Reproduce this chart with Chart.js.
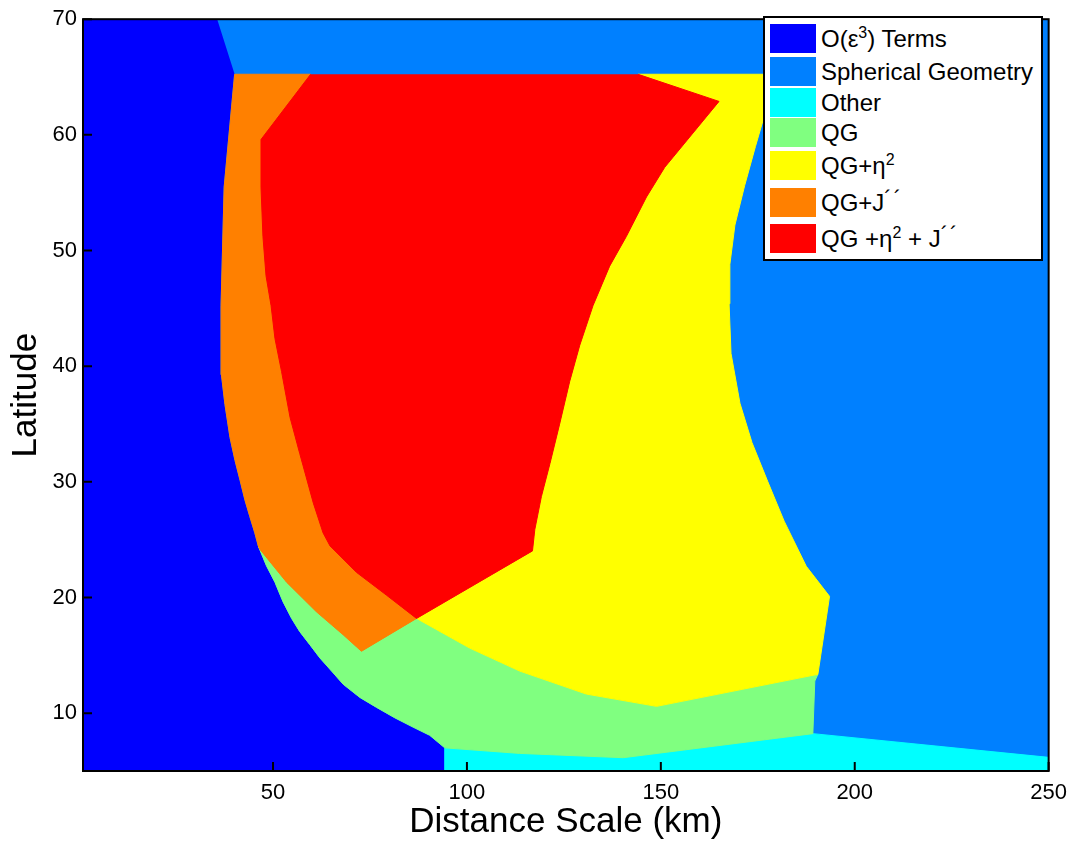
<!DOCTYPE html>
<html><head><meta charset="utf-8">
<script src="https://cdn.jsdelivr.net/npm/chart.js@4.4.0/dist/chart.umd.min.js"></script>
<style>
html,body{margin:0;padding:0;background:#fff;}
#wrap{position:relative;width:1076px;height:844px;}
#legend{position:absolute;left:763px;top:16px;width:280px;height:245px;border:2px solid #000;background:#fff;box-sizing:border-box;font-family:'Liberation Sans',Arial,Helvetica,sans-serif;font-size:24px;color:#000;}
.row{position:absolute;left:5px;height:29px;display:flex;align-items:center;white-space:nowrap;}
.sw{width:46px;height:29px;margin-right:5px;flex:none;}
.row sup{font-size:16px;line-height:0;vertical-align:baseline;position:relative;top:-9px;}
.row sup.acc{font-size:22px;top:-5px;letter-spacing:2px;}
.row:nth-child(1){top:6px}
.row:nth-child(2){top:39px}
.row:nth-child(3){top:70px}
.row:nth-child(4){top:100px}
.row:nth-child(5){top:133px}
.row:nth-child(6){top:170px}
.row:nth-child(7){top:206px}
</style></head>
<body>
<div id="wrap"><canvas id="c" width="1076" height="844"></canvas><div id="legend"></div></div>
<script>
// ---- data (km, degrees latitude) ----
const xTicks = [50, 100, 150, 200, 250];
const yTicks = [10, 20, 30, 40, 50, 60, 70];
const seriesNames = ['O(ε3) Terms', 'Spherical Geometry', 'Other', 'QG', 'QG+η2', 'QG+J´´', 'QG +η2 + J´´'];
const legendLabels = ['O(ε<sup>3</sup>) Terms', 'Spherical Geometry', 'Other', 'QG', 'QG+η<sup>2</sup>', 'QG+J<sup class="acc">´´</sup>', 'QG +η<sup>2</sup> + J<sup class="acc">´´</sup>'];
const seriesColors = ['#0000FF', '#0080FF', '#00FFFF', '#80FF80', '#FFFF00', '#FF8000', '#FF0000'];

// region boundaries: [distance km, latitude]
const plotBox = [[1,5],[1,70],[250,70],[250,5]];
const sphericalOuter = [[35.6,70],[250,70],[250,5],[94.3,5]];
const leftEdgeUpper = [[40.1,65.24],[37.4,55.48],[36.6,45.23],[36.7,39.26],[37.6,36.7],[38.9,33.85],[40.2,31.85],[41.5,30.14],[42.75,28.44],[44.0,27.02],[45.3,25.59],[46.2,24.46]];
const leftEdgeLower = [[46.2,24.46],[48.3,22.75],[50.5,21.32],[52.6,19.62],[54.8,18.19],[56.9,17.05],[59.5,15.92],[62.1,14.77],[65.1,13.64],[68.1,12.5],[72.4,11.36],[76.7,10.5],[81.4,9.6],[86.1,8.8],[90.4,8.09],[94.3,7.0]];
const cyanTop = [[94.3,7.0],[113.6,6.52],[140.3,6.15],[189.2,8.23],[250,6.18]];
const greenRight = [[189.2,8.23],[189.7,12.78],[190.5,13.36]];
const greenYellow = [[87.0,18.19],[100.7,15.63],[113.6,13.64],[130.8,11.65],[148.9,10.59],[190.5,13.36]];
const yellowRight = [[190.5,13.36],[193.5,20.1],[187.5,22.7],[181.8,26.6],[177.6,30.0],[173.5,33.4],[170.4,36.8],[168.1,41.1],[167.6,45.4],[167.8,48.8],[169.1,52.2],[171.6,55.6],[174.4,59.0],[177.0,62.0],[179.5,65.24]];
const redYellow = [[144.1,65.24],[165.0,62.89],[151.0,57.19],[146.3,54.63],[141.1,51.21],[136.8,48.65],[132.5,45.23],[129.1,41.82],[126.5,38.68],[123.9,34.99],[121.4,31.57],[119.2,28.73],[117.5,25.87],[116.9,24.03],[87.0,18.19]];
const redOrange = [[87.0,18.19],[79.3,20.19],[71.5,22.18],[64.7,24.46],[62.9,25.59],[60.4,28.16],[56.9,32.43],[54.4,35.56],[52.2,39.54],[50.5,42.39],[49.5,45.23],[48.2,47.8],[47.4,51.21],[46.9,55.48],[46.9,59.6],[59.7,65.24]];
const orangeGreen = [[87.0,18.19],[72.8,15.35],[68.1,16.77],[61.2,18.76],[53.5,21.32],[46.6,24.17],[46.2,24.46]];
const orangeTopLeft = [[40.1,65.24]];

// ---- build polygons ----
const rev = a => a.slice().reverse();
const poly = (...parts) => [].concat(...parts).map(p => ({x: p[0], y: p[1]}));
const regions = [
  poly(plotBox),
  poly(sphericalOuter, rev(leftEdgeLower), rev(leftEdgeUpper)),
  poly([[94.3,5]], cyanTop, [[250,5]]),
  poly(leftEdgeLower, cyanTop.slice(1,4), greenRight.slice(1), rev(greenYellow), orangeGreen.slice(1)),
  poly(greenYellow, yellowRight.slice(1), redYellow),
  poly(orangeTopLeft, rev(redOrange), orangeGreen.slice(1), rev(leftEdgeUpper)),
  poly(redYellow, redOrange.slice(1))
];

// topmost layer first (Chart.js draws index 0 last)
const datasets = regions.map((d, i) => ({
  label: seriesNames[i],
  data: d,
  backgroundColor: seriesColors[i],
  borderColor: seriesColors[i],
  borderWidth: 1,
  pointRadius: 0,
  tension: 0,
  fill: 'shape'
})).reverse();

const FONT = "'Liberation Sans', Arial, Helvetica, sans-serif";

const axesPlugin = {
  id: 'axesBox',
  afterDatasetsDraw(chart) {
    const {ctx, chartArea: a, scales: {x, y}} = chart;
    ctx.save();
    ctx.strokeStyle = '#000';
    ctx.lineWidth = 2;
    ctx.beginPath();
    x.ticks.forEach(t => { const px = x.getPixelForValue(t.value); ctx.moveTo(px, a.bottom); ctx.lineTo(px, a.bottom - 9); });
    y.ticks.forEach(t => { const py = y.getPixelForValue(t.value); ctx.moveTo(a.left, py); ctx.lineTo(a.left + 9, py); });
    ctx.stroke();
    ctx.strokeRect(a.left, a.top, a.right - a.left, a.bottom - a.top);
    ctx.restore();
  }
};

new Chart(document.getElementById('c'), {
  type: 'line',
  data: {datasets},
  options: {
    responsive: false,
    animation: false,
    events: [],
    layout: {padding: {top: 10, right: 27, left: 0, bottom: 0}},
    plugins: {legend: {display: false}, tooltip: {enabled: false}},
    scales: {
      x: {
        type: 'linear', min: 1, max: 250,
        afterBuildTicks: s => { s.ticks = xTicks.map(v => ({value: v})); },
        afterFit: s => { s.height = 73; },
        grid: {display: false, drawTicks: false},
        border: {display: false},
        ticks: {color: '#000', font: {family: FONT, size: 22}, padding: 9, maxRotation: 0, autoSkip: false},
        title: {display: true, text: 'Distance Scale (km)', color: '#000', font: {family: FONT, size: 35}, padding: {top: 0, bottom: 1}}
      },
      y: {
        type: 'linear', min: 5, max: 70,
        afterBuildTicks: s => { s.ticks = yTicks.map(v => ({value: v})); },
        afterFit: s => { s.width = 83; },
        grid: {display: false, drawTicks: false},
        border: {display: false},
        ticks: {color: '#000', font: {family: FONT, size: 22}, padding: 6, autoSkip: false},
        title: {display: true, text: 'Latitude', color: '#000', font: {family: FONT, size: 35}, padding: {top: 5, bottom: 0}}
      }
    }
  },
  plugins: [axesPlugin]
});

// legend (HTML so superscripts stay real text)
const lg = document.getElementById('legend');
legendLabels.forEach((lab, i) => {
  const r = document.createElement('div');
  r.className = 'row';
  r.innerHTML = '<span class="sw" style="background:' + seriesColors[i] + '"></span><span>' + lab + '</span>';
  lg.appendChild(r);
});
</script>
</body></html>
